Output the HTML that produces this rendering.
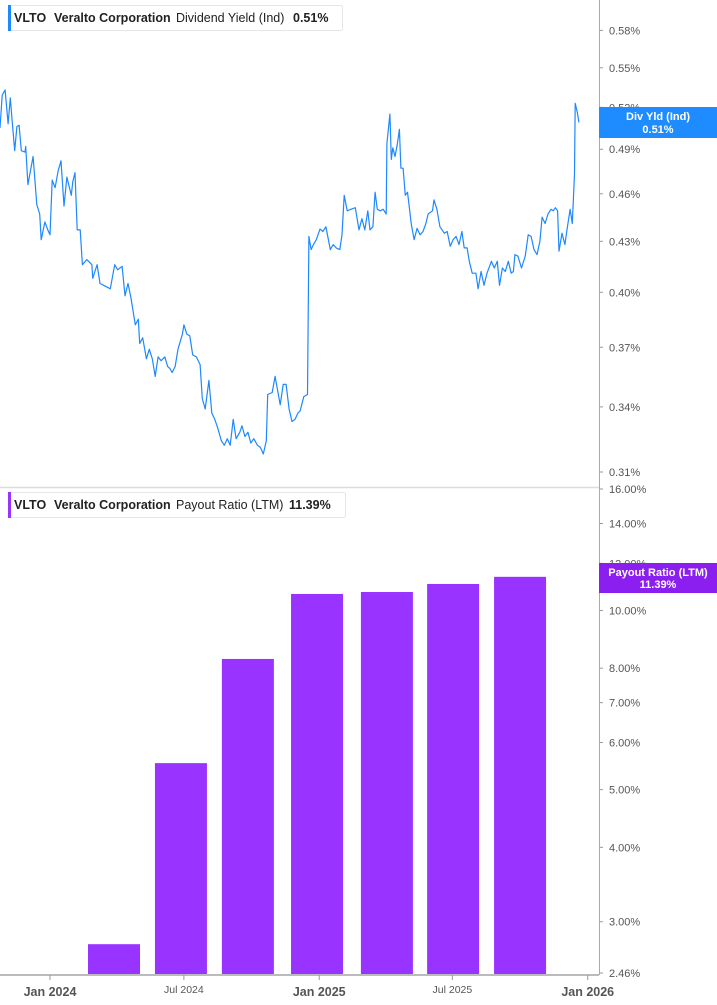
<!DOCTYPE html>
<html><head><meta charset="utf-8"><style>
html,body{margin:0;padding:0;background:#fff;}
svg{display:block;font-family:"Liberation Sans",Arial,sans-serif;}
</style></head><body>
<svg id="c" width="717" height="1005" viewBox="0 0 717 1005">
<rect width="717" height="1005" fill="#fff"/>
<g id="grid">
<line x1="599.5" y1="0" x2="599.5" y2="975" stroke="#aaa" stroke-width="1"/>
<line x1="0" y1="487.5" x2="599" y2="487.5" stroke="#ddd" stroke-width="1.5"/>
<line x1="0" y1="975" x2="599" y2="975" stroke="#bbb" stroke-width="2"/>
</g>
<g id="topPanel"></g>
<g id="botPanel"></g>
<g id="xax"></g>
<g>
<rect x="8.5" y="5.5" width="334" height="25" rx="2" fill="#fff" stroke="#e6e6e6"/>
<rect x="8" y="5" width="3" height="26" fill="#1e88ff"/>
<text x="14" y="22" font-size="12.5" font-weight="bold" fill="#222">VLTO</text>
<text x="54" y="22" font-size="12.5" font-weight="bold" fill="#222">Veralto Corporation</text>
<text x="176" y="22" font-size="12.5" fill="#222">Dividend Yield (Ind)</text>
<text x="293" y="22" font-size="12.5" font-weight="bold" fill="#222">0.51%</text>
</g>
<g>
<rect x="8.5" y="492.5" width="337" height="25" rx="2" fill="#fff" stroke="#e6e6e6"/>
<rect x="8" y="492" width="3" height="26" fill="#9933ff"/>
<text x="14" y="509" font-size="12.5" font-weight="bold" fill="#222">VLTO</text>
<text x="54" y="509" font-size="12.5" font-weight="bold" fill="#222">Veralto Corporation</text>
<text x="176" y="509" font-size="12.5" fill="#222">Payout Ratio (LTM)</text>
<text x="289" y="509" font-size="12.5" font-weight="bold" fill="#222">11.39%</text>
</g>
</svg>
<script>
const yieldDays=[-68,-65,-61,-57,-54,-52,-48,-45,-42,-39,-34,-33,-30,-23,-18,-14,-12,-7,-3,0,3,7,11,15,19,23,29,31,34,37,41,44,50,57,58,64,68,73,82,88,92,98,102,106,110,116,120,122,126,131,135,139,143,147,151,156,160,163,166,170,174,180,182,186,190,194,199,204,207,211,216,220,224,228,233,237,241,245,249,253,258,261,265,269,273,277,282,286,290,294,296,302,306,313,317,321,325,329,333,337,340,345,350,352,355,358,362,367,371,375,381,385,389,394,397,400,404,409,415,420,424,428,432,435,439,442,445,449,453,457,458,462,464,466,469,472,475,477,480,483,486,488,491,495,499,503,507,511,514,520,522,526,530,536,540,544,548,552,556,560,563,567,570,574,579,582,586,590,594,600,604,608,611,615,619,623,627,630,632,636,641,646,650,654,658,662,666,669,673,677,681,684,687,690,692,696,700,703,707,710,713,714,717,719];
const yieldVals=[0.505,0.529,0.533,0.508,0.527,0.514,0.489,0.506,0.507,0.489,0.488,0.492,0.466,0.485,0.453,0.447,0.431,0.442,0.437,0.434,0.469,0.464,0.475,0.482,0.452,0.471,0.459,0.468,0.474,0.437,0.437,0.416,0.419,0.416,0.408,0.416,0.405,0.404,0.402,0.416,0.413,0.415,0.398,0.405,0.397,0.382,0.385,0.372,0.375,0.364,0.369,0.364,0.355,0.365,0.363,0.365,0.360,0.359,0.357,0.360,0.369,0.377,0.382,0.377,0.376,0.366,0.365,0.361,0.344,0.339,0.353,0.337,0.334,0.330,0.324,0.322,0.325,0.322,0.334,0.325,0.328,0.331,0.326,0.328,0.323,0.325,0.322,0.321,0.318,0.324,0.346,0.347,0.355,0.341,0.351,0.351,0.339,0.333,0.334,0.337,0.338,0.345,0.346,0.433,0.425,0.428,0.431,0.4375,0.436,0.439,0.425,0.428,0.426,0.425,0.434,0.459,0.449,0.450,0.451,0.437,0.444,0.437,0.449,0.437,0.439,0.461,0.450,0.449,0.450,0.447,0.494,0.515,0.483,0.491,0.485,0.493,0.504,0.477,0.477,0.459,0.461,0.453,0.441,0.431,0.438,0.434,0.436,0.441,0.447,0.449,0.456,0.450,0.439,0.435,0.436,0.427,0.431,0.433,0.428,0.436,0.426,0.426,0.418,0.411,0.411,0.402,0.412,0.404,0.411,0.418,0.414,0.418,0.404,0.414,0.412,0.418,0.411,0.412,0.422,0.421,0.414,0.421,0.434,0.433,0.425,0.422,0.430,0.445,0.441,0.447,0.450,0.449,0.451,0.449,0.424,0.435,0.428,0.4375,0.450,0.441,0.473,0.523,0.516,0.509];
const yieldTicks=[0.58,0.55,0.52,0.49,0.46,0.43,0.40,0.37,0.34,0.31];
const barDays=[87,178,269,363,458,548,639];
const payoutVals=[2.75,5.54,8.29,10.66,10.74,11.08,11.39];
const payoutTicks=[16,14,12,10,8,7,6,5,4,3,2.46];
const xTickDays=[0,182,366,547,731];
const xTickLabels=["Jan 2024","Jul 2024","Jan 2025","Jul 2025","Jan 2026"];
const xTickMajor=[true,false,true,false,true];

const NS="http://www.w3.org/2000/svg";
const X=d=>50+d*268.5/365;
const YT=v=>472-705*Math.log(v/0.31);
const YB=v=>973-258.5*Math.log(v/2.46);
function mk(tag,attrs,parent){const e=document.createElementNS(NS,tag);for(const k in attrs)e.setAttribute(k,attrs[k]);parent.appendChild(e);return e;}
const topG=document.getElementById('topPanel'),botG=document.getElementById('botPanel'),xax=document.getElementById('xax');

yieldTicks.forEach(v=>{
  const y=YT(v);
  const t=mk('line',{x1:600,x2:603,y1:y,y2:y,stroke:'#999'},topG);
  
  
  const l=mk('text',{x:609,y:y+4,'font-size':11,fill:'#555'},topG);
  l.textContent=v.toFixed(2)+'%';
  
  
});
const n=Math.min(yieldDays.length,yieldVals.length);
const pts=[];
for(let i=0;i<n;i++)pts.push(X(yieldDays[i]).toFixed(1)+','+YT(yieldVals[i]).toFixed(1));
const line=mk('polyline',{points:pts.join(' '),fill:'none',stroke:'#1e88ff','stroke-width':1.2,'stroke-linejoin':'round'},topG);



payoutTicks.forEach(v=>{
  const y=YB(v);
  const t=mk('line',{x1:600,x2:603,y1:y,y2:y,stroke:'#999'},botG);
  
  
  const l=mk('text',{x:609,y:y+4,'font-size':11,fill:'#555'},botG);
  l.textContent=v.toFixed(2)+'%';
  
  
});
barDays.forEach((d,i)=>{
  const y=YB(payoutVals[i]);
  const b=mk('rect',{x:X(d)-26,y:y,width:52,height:974-y,fill:'#9933ff'},botG);
  
  
});

xTickDays.forEach((d,i)=>{
  const x=X(d);
  const t=mk('line',{x1:x,x2:x,y1:975,y2:980,stroke:'#999'},xax);
  
  
  const l=mk('text',{x:x,y:xTickMajor[i]?996:993,'font-size':xTickMajor[i]?12.5:10.5,'font-weight':xTickMajor[i]?'bold':'normal',fill:'#555','text-anchor':'middle'},xax);
  l.textContent=xTickLabels[i];
  
  
});

const svgEl=document.getElementById('c');
const g1=mk('g',{},svgEl);


mk('rect',{x:599,y:107,width:118,height:31,fill:'#1e8cff'},g1);
const t1=mk('text',{x:658,y:120,'font-size':11,'font-weight':'bold',fill:'#fff','text-anchor':'middle'},g1);t1.textContent='Div Yld (Ind)';
const t2=mk('text',{x:658,y:133,'font-size':11,'font-weight':'bold',fill:'#fff','text-anchor':'middle'},g1);t2.textContent='0.51%';
const g2=mk('g',{},svgEl);


mk('rect',{x:599,y:563,width:118,height:30,fill:'#8a1ff0'},g2);
const t3=mk('text',{x:658,y:576,'font-size':11,'font-weight':'bold',fill:'#fff','text-anchor':'middle'},g2);t3.textContent='Payout Ratio (LTM)';
const t4=mk('text',{x:658,y:588,'font-size':11,'font-weight':'bold',fill:'#fff','text-anchor':'middle'},g2);t4.textContent='11.39%';
</script>
</body></html>
